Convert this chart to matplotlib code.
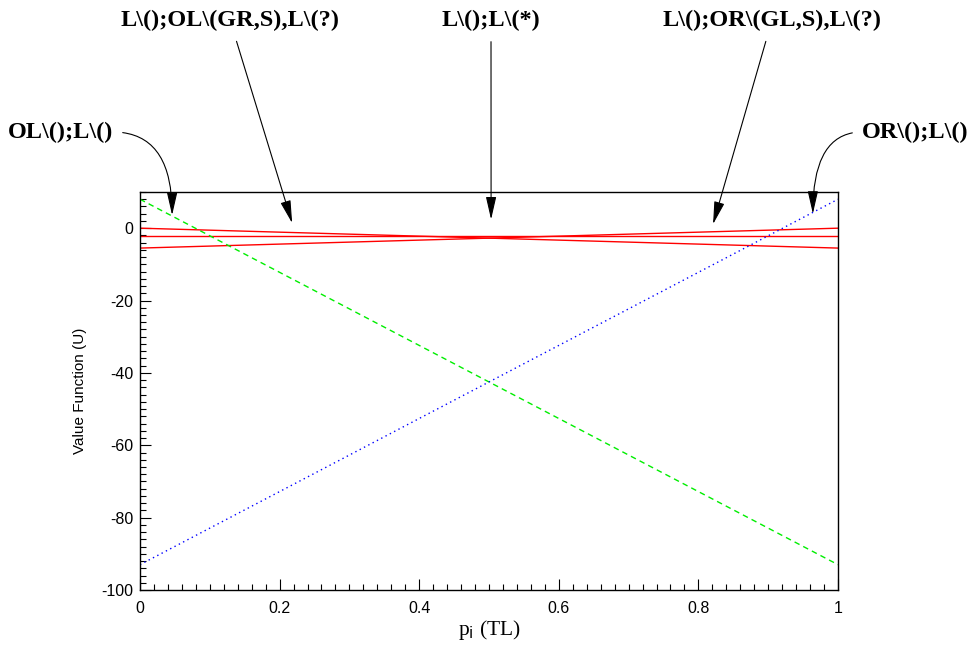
import matplotlib
matplotlib.use("Agg")
import matplotlib.pyplot as plt
from matplotlib.ticker import MultipleLocator

# Data
x_ends = [0.0, 1.0]
green_ol = [8.0, -93.0]
blue_or = [-93.0, 8.0]
red_lines = [[0.0, -5.5], [-2.2, -2.2], [-5.5, 0.0]]

annotations = [
    # text, tip (x, y data), text pos (figure px from top-left), kind
    ("OL\\();L\\()", (0.046, 3.6), (113, 132), "left_curve"),
    ("L\\();OL\\(GR,S),L\\(?)", (0.218, 1.4), (230, 20), "straight"),
    ("L\\();L\\(*)", (0.503, 2.4), (491, 20), "straight"),
    ("L\\();OR\\(GL,S),L\\(?)", (0.821, 1.1), (772, 20), "straight"),
    ("OR\\();L\\()", (0.964, 4.0), (862, 132), "right_curve"),
]

W, H = 973, 647
fig = plt.figure(figsize=(W / 100, H / 100), dpi=100)
ax = fig.add_axes([140 / W, 1 - 590 / H, (838 - 140) / W, (590 - 192) / H])

plt.rcParams['mathtext.fontset'] = 'custom'
plt.rcParams['mathtext.rm'] = 'Liberation Serif'
plt.rcParams['mathtext.it'] = 'Liberation Serif'

for r in red_lines:
    ax.plot(x_ends, r, color='#ff0000', lw=1.0)
ax.plot(x_ends, green_ol, color='#00ee00', lw=1.0, linestyle=(0, (4, 3)))
ax.plot(x_ends, blue_or, color='#0000ff', lw=1.0, linestyle=(0, (1, 2.5)))

ax.set_xlim(0, 1)
ax.set_ylim(-100, 10)
ax.xaxis.set_minor_locator(MultipleLocator(0.02))
ax.yaxis.set_minor_locator(MultipleLocator(2))
ax.set_xticks([0, 0.2, 0.4, 0.6, 0.8, 1.0])
ax.set_xticklabels(['0', '0.2', '0.4', '0.6', '0.8', '1'])
ax.set_yticks([-100, -80, -60, -40, -20, 0])
ax.set_yticklabels(['-100', '-80', '-60', '-40', '-20', '0'])
ax.tick_params(which='major', direction='in', length=8, width=0.8, labelsize=11.5,
               top=False, right=False)
ax.tick_params(axis='x', which='major', pad=8)
ax.tick_params(axis='y', which='major', pad=5)
ax.tick_params(which='minor', direction='in', length=4, width=0.8, top=False, right=False)
for lab in ax.get_xticklabels() + ax.get_yticklabels():
    lab.set_family('Liberation Sans')
for s in ax.spines.values():
    s.set_linewidth(1.0)

ax.set_ylabel('Value Function (U)', family='Liberation Sans', fontsize=11, labelpad=10)
ax.set_xlabel(r'p$_{\mathrm{i}}$ (TL)', family='Liberation Serif', fontsize=15.5, labelpad=1)

head = "-|>,head_length=0.7,head_width=0.16"
common = dict(xycoords='data', textcoords='figure fraction', va='center',
              family='Liberation Serif', fontweight='bold', fontsize=17.5, annotation_clip=False)
for text, tip, (px, py), kind in annotations:
    xy_text = (px / W, 1 - py / H)
    if kind == "straight":
        ax.annotate(text, xy=tip, xytext=xy_text, ha='center',
                    arrowprops=dict(arrowstyle=head, color='black', lw=0.8, mutation_scale=20,
                                    shrinkA=6, shrinkB=0), **common)
    elif kind == "left_curve":
        ax.annotate(text, xy=tip, xytext=xy_text, ha='right',
                    arrowprops=dict(arrowstyle=head, color='black', lw=0.8, mutation_scale=20,
                                    shrinkA=5, shrinkB=0, relpos=(1, 0.5),
                                    connectionstyle="angle3,angleA=0,angleB=90"), **common)
    else:
        ax.annotate(text, xy=tip, xytext=xy_text, ha='left',
                    arrowprops=dict(arrowstyle=head, color='black', lw=0.8, mutation_scale=20,
                                    shrinkA=5, shrinkB=0, relpos=(0, 0.5),
                                    connectionstyle="angle3,angleA=0,angleB=90"), **common)

fig.savefig('out.png', dpi=100)
